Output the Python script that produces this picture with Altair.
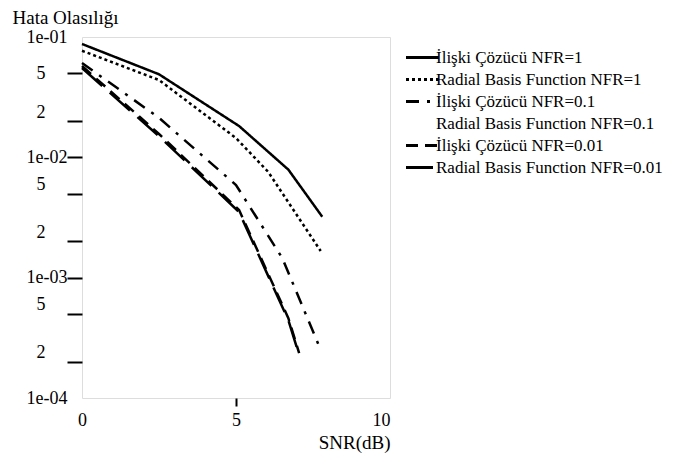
import altair as alt
import pandas as pd

series_names = [
    "İlişki Çözücü NFR=1",
    "Radial Basis Function NFR=1",
    "İlişki Çözücü NFR=0.1",
    "Radial Basis Function NFR=0.1",
    "İlişki Çözücü NFR=0.01",
    "Radial Basis Function NFR=0.01",
]

snr_iliski_1 = [0, 2.5, 5.1, 6.7, 7.8]
pe_iliski_1 = [0.0875, 0.049, 0.0182, 0.0079, 0.00321]

snr_rbf_1 = [0, 2.5, 5.0, 6.05, 7.75]
pe_rbf_1 = [0.0769, 0.0439, 0.01446, 0.00755, 0.001665]

snr_iliski_01 = [0, 2.5, 5.0, 6.5, 7.7]
pe_iliski_01 = [0.0608, 0.0213, 0.00589, 0.00146, 0.00027]

snr_rbf_01 = [0, 2.5, 5.1, 6.7, 7.05]
pe_rbf_01 = [0.0585, 0.0160, 0.0037, 0.00047, 0.00024]

snr_iliski_001 = [0, 2.5, 5.1, 6.7, 7.05]
pe_iliski_001 = [0.0574, 0.01563, 0.00365, 0.000461, 0.000236]

snr_rbf_001 = [0, 2.5, 5.1, 6.7, 7.05]
pe_rbf_001 = [0.0552, 0.0150, 0.00351, 0.000443, 0.000227]

y_tick_values = [0.1, 0.05, 0.02, 0.01, 0.005, 0.002, 0.001, 0.0005, 0.0002, 0.0001]
y_tick_labels = ["1e-01", "5", "2", "1e-02", "5", "2", "1e-03", "5", "2", "1e-04"]
x_tick_values = [0, 5, 10]

all_snr = [snr_iliski_1, snr_rbf_1, snr_iliski_01, snr_rbf_01, snr_iliski_001, snr_rbf_001]
all_pe = [pe_iliski_1, pe_rbf_1, pe_iliski_01, pe_rbf_01, pe_iliski_001, pe_rbf_001]

rows = []
for name, xs, ys in zip(series_names, all_snr, all_pe):
    for i, (x, y) in enumerate(zip(xs, ys)):
        rows.append({"series": name, "snr": x, "pe": y, "order": i})
df = pd.DataFrame(rows)

FONT = "Liberation Serif"

parts = []
for v, lab in zip(y_tick_values, y_tick_labels):
    parts.append(f"abs(datum.value - {v}) < {v} * 0.001 ? '{lab}'")
y_label_expr = " : ".join(parts) + " : ''"

decade_test = (
    "abs(log(datum.value)/LN10 - round(log(datum.value)/LN10)) < 0.001"
    " || abs(datum.value - 0.05) < 0.00001"
)
decade_only = "abs(log(datum.value)/LN10 - round(log(datum.value)/LN10)) < 0.001"

dash_range = [[1, 0], [3, 3], [13, 8, 3, 8], [1, 0], [12, 7], [27, 10]]
color_range = ["black", "black", "black", "transparent", "black", "black"]

legend = alt.Legend(
    title=None,
    orient="none",
    legendX=332,
    legendY=12,
    symbolType="M-3,0H3",
    symbolSize=121,
    symbolStrokeWidth=3,
    labelFont=FONT,
    labelFontSize=17,
    labelColor="black",
    labelOffset=5,
    labelLimit=0,
    rowPadding=4,
)

chart = (
    alt.Chart(df)
    .mark_line(strokeWidth=2.5)
    .encode(
        x=alt.X(
            "snr:Q",
            scale=alt.Scale(domain=[0, 10], nice=False, zero=False),
            axis=alt.Axis(
                values=x_tick_values,
                format="d",
                title="SNR(dB)",
                titleX=308,
                titleY=44,
                titleAlign="right",
                titleBaseline="middle",
                titleFont=FONT,
                titleFontSize=19,
                titleFontWeight="normal",
                titleColor="black",
                labelFont=FONT,
                labelFontSize=18,
                labelColor="black",
                labelPadding=5,
                labelFlush=False,
                labelAlign={"condition": {"test": "datum.value == 10", "value": "right"}, "value": "center"},
                tickSize=8,
                tickWidth=2,
                tickColor="black",
                tickOpacity={"condition": {"test": "datum.value == 0 || datum.value == 10", "value": 0}, "value": 1},
                domain=False,
                grid=False,
            ),
        ),
        y=alt.Y(
            "pe:Q",
            scale=alt.Scale(type="log", domain=[0.0001, 0.1], nice=False),
            axis=alt.Axis(
                values=y_tick_values,
                labelExpr=y_label_expr,
                title="Hata Olasılığı",
                titleAngle=0,
                titleX=-70,
                titleY=-20,
                titleAlign="left",
                titleBaseline="middle",
                titleFont=FONT,
                titleFontSize=19,
                titleFontWeight="normal",
                titleColor="black",
                labelFont=FONT,
                labelFontSize=18,
                labelColor="black",
                labelPadding={"condition": {"test": decade_only, "value": 0}, "value": 22},
                labelBaseline={"condition": {"test": decade_test, "value": "middle"}, "value": "bottom"},
                tickSize=15,
                tickWidth=2,
                tickColor="black",
                tickOpacity={"condition": {"test": "datum.value > 0.099 || datum.value < 0.000101", "value": 0}, "value": 1},
                domain=False,
                grid=False,
            ),
        ),
        strokeDash=alt.StrokeDash(
            "series:N",
            sort=series_names,
            scale=alt.Scale(domain=series_names, range=dash_range),
            legend=legend,
        ),
        color=alt.Color(
            "series:N",
            sort=series_names,
            scale=alt.Scale(domain=series_names, range=color_range),
            legend=legend,
        ),
        order="order:Q",
    )
    .properties(
        width=308,
        height=361,
        autosize=alt.AutoSizeParams(type="none"),
        padding={"left": 74, "top": 29, "right": 275, "bottom": 55},
    )
    .configure_view(stroke="black", strokeWidth=2)
    .configure(background="white")
)

chart.save("out.html", embed_options={"renderer": "svg", "actions": False})
